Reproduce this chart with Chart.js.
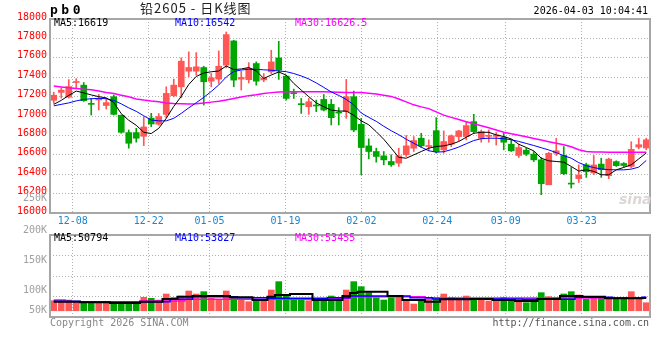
<!DOCTYPE html>
<html>
<head>
<meta charset="utf-8">
<script src="https://cdn.jsdelivr.net/npm/chart.js@4"></script>
<style>
  html, body { margin: 0; padding: 0; background: #fff; }
  #wrap { position: relative; width: 660px; height: 360px; overflow: hidden;
          font-family: "DejaVu Sans Mono", monospace; font-size: 10px; }
  #wrap canvas { position: absolute; left: 0; }
  .t { position: absolute; white-space: nowrap; line-height: 12px; }
</style>
</head>
<body>
<div id="wrap">
  <canvas id="kline" width="660" height="230" style="top:0"></canvas>
  <canvas id="vol" width="660" height="130" style="top:190px"></canvas>

  <div class="t" style="left:50px;top:3px;font-weight:bold;font-size:13px;line-height:14px;letter-spacing:3.5px">pb0</div>
  <div class="t" style="left:140px;top:1px;font-family:'Noto Sans CJK SC';font-size:13px;line-height:14px;letter-spacing:1px;color:#222">铅2605 - 日K线图</div>
  <div class="t" style="right:12px;top:5px;color:#000">2026-04-03 10:04:41</div>

  <div class="t" style="left:54px;top:17px;color:#000">MA5:16619</div>
  <div class="t" style="left:175px;top:17px;color:#0000ff">MA10:16542</div>
  <div class="t" style="left:295px;top:17px;color:#ff00ff">MA30:16626.5</div>

  <div class="t" style="left:54px;top:232px;color:#000">MA5:50794</div>
  <div class="t" style="left:175px;top:232px;color:#0000ff">MA10:53827</div>
  <div class="t" style="left:295px;top:232px;color:#ff00ff">MA30:53455</div>

  <div class="t" style="left:619px;top:193px;font-family:'DejaVu Sans';font-weight:bold;font-style:italic;font-size:14px;color:#ddd6d6">sina</div>

  <div class="t" style="left:50px;top:317px;color:#888">Copyright 2026 SINA.COM</div>
  <div class="t" style="right:11px;top:317px;color:#555">http://finance.sina.com.cn</div>
</div>

<script>
// trading days shown (pb0, daily)
const dates = [
  '12-03','12-04','12-05','12-08','12-09','12-10','12-11','12-12','12-15','12-16',
  '12-17','12-18','12-19','12-22','12-23','12-24','12-25','12-26','12-29','12-30',
  '12-31','01-05','01-06','01-07','01-08','01-09','01-12','01-13','01-14','01-15',
  '01-16','01-19','01-20','01-21','01-22','01-23','01-26','01-27','01-28','01-29',
  '01-30','02-02','02-03','02-04','02-05','02-06','02-09','02-10','02-11','02-12',
  '02-13','02-24','02-25','02-26','02-27','03-02','03-03','03-04','03-05','03-06',
  '03-09','03-10','03-11','03-12','03-13','03-16','03-17','03-18','03-19','03-20',
  '03-23','03-24','03-25','03-26','03-27','03-30','03-31','04-01','04-02','04-03'
];
const tickDates = ['12-08','12-22','01-05','01-19','02-02','02-24','03-09','03-23'];

const open = [
  17162,17243,17195,17345,17318,17128,17165,17108,17199,17008,
  16829,16829,16791,16978,16915,17017,17209,17301,17462,17462,
  17500,17359,17380,17524,17774,17380,17375,17541,17372,17455,
  17599,17411,17238,17125,17096,17110,17171,17120,17040,17045,
  17199,16914,16692,16634,16589,16531,16514,16600,16668,16771,
  16685,16849,16651,16709,16788,16788,16942,16771,16790,16790,
  16781,16709,16593,16648,16607,16548,16291,16617,16593,16305,
  16355,16497,16413,16504,16385,16530,16510,16480,16680,16670
];
const high = [
  17245,17290,17375,17385,17345,17181,17222,17181,17216,17010,
  16856,16873,16990,17028,17025,17301,17380,17599,17661,17654,
  17513,17438,17671,17866,17780,17460,17550,17558,17438,17678,
  17770,17421,17277,17181,17181,17164,17222,17171,17086,17377,
  17257,16976,16764,16668,16634,16600,16668,16798,16788,16822,
  16754,16983,16846,16805,16853,16942,17017,16856,16856,16830,
  16822,16754,16709,16668,16634,16572,16625,16770,16685,16470,
  16497,16514,16593,16565,16565,16538,16520,16735,16771,16771
];
const low = [
  17130,17185,17185,17290,17150,17010,17062,17072,17010,16822,
  16668,16730,16695,16890,16905,16983,17198,17188,17404,17421,
  17113,17301,17336,17496,17301,17268,17340,17318,17353,17438,
  17377,17164,17181,17027,17017,17045,17052,16908,16908,16976,
  16839,16394,16558,16524,16497,16480,16480,16583,16634,16675,
  16641,16617,16617,16685,16743,16754,16822,16730,16730,16700,
  16651,16634,16572,16593,16531,16189,16291,16593,16394,16257,
  16315,16367,16394,16367,16353,16480,16478,16465,16661,16651
];
const close = [
  17214,17267,17303,17355,17158,17120,17175,17138,17017,16832,
  16719,16771,16887,16918,16995,17233,17318,17565,17500,17507,
  17353,17394,17513,17839,17370,17397,17490,17359,17392,17558,
  17472,17181,17230,17117,17147,17103,17062,16983,17030,17199,
  16856,16675,16634,16583,16548,16497,16589,16692,16747,16692,
  16695,16634,16737,16795,16846,16901,16839,16839,16800,16805,
  16730,16641,16675,16607,16548,16302,16615,16641,16405,16298,
  16392,16425,16495,16447,16555,16488,16490,16656,16704,16755
];

// moving averages as printed on the chart
const ma5 = [
  17120,17161,17212,17257,17238,17217,17199,17187,17140,17024,
  16956,16904,16832,16819,16873,16976,17099,17202,17325,17408,
  17443,17456,17464,17515,17479,17485,17500,17464,17387,17423,
  17454,17421,17336,17267,17199,17135,17096,17061,17051,17051,
  17007,16950,16909,16838,16760,16668,16573,16565,16599,16634,
  16668,16686,16692,16709,16737,16781,16822,16832,16832,16805,
  16788,16764,16709,16675,16640,16565,16538,16531,16524,16480,
  16432,16445,16429,16394,16394,16445,16470,16497,16558,16619
];
const ma10 = [
  17105,17120,17135,17156,17171,17178,17182,17178,17161,17125,
  17084,17048,17002,16958,16950,16950,16976,17027,17084,17137,
  17192,17253,17320,17402,17459,17474,17482,17481,17476,17472,
  17464,17457,17438,17413,17382,17341,17295,17248,17212,17171,
  17115,17031,16986,16945,16894,16848,16807,16760,16719,16678,
  16642,16627,16632,16653,16680,16714,16747,16766,16771,16771,
  16766,16755,16738,16717,16696,16673,16650,16622,16591,16565,
  16519,16488,16468,16454,16447,16445,16445,16452,16473,16542
];
const ma30 = [
  17310,17300,17291,17284,17277,17271,17257,17243,17231,17214,
  17198,17176,17164,17154,17146,17135,17130,17127,17125,17127,
  17133,17143,17153,17166,17180,17195,17210,17218,17233,17241,
  17247,17250,17250,17250,17250,17250,17250,17247,17245,17243,
  17243,17243,17235,17227,17214,17202,17176,17146,17115,17094,
  17076,17043,17009,16986,16963,16940,16920,16899,16879,16856,
  16832,16816,16802,16786,16769,16752,16735,16719,16704,16683,
  16653,16634,16630,16628,16627,16626,16626,16626,16626,16627
];

// volume (lots)
const volume = [
  40200,36200,42900,36200,36200,36200,36200,32200,32200,29600,
  36200,29600,53600,49600,42900,67000,53600,58900,79000,67000,
  76300,49600,42900,79000,56300,42900,36200,42900,42900,83000,
  116400,63000,42900,45600,40200,42900,42900,58900,42900,83000,
  116400,96400,72300,52300,42900,52300,53600,42900,26900,42900,
  45600,53600,67000,53600,45600,58900,46900,45600,38900,40200,
  53600,45600,42900,32200,45600,72300,56300,53600,67000,76300,
  63000,45600,56300,53600,53600,45600,49600,76300,53600,32200
];
const volMa5 = [
  36100,36100,36100,36100,33700,33700,33700,33700,30900,30900,
  30900,30900,36100,36100,36100,46900,46900,56100,56100,58900,
  58900,58900,58900,58900,53700,53700,53700,42900,42900,56100,
  63000,63000,67000,67000,67000,42900,42900,42900,42900,58900,
  71000,76200,76200,76200,76200,58900,58900,42900,42900,42900,
  36100,36100,45700,45700,45700,45700,46900,46900,46900,42900,
  42900,42900,38900,38900,38900,46900,46900,46900,58900,58900,
  58900,56100,56100,56100,49700,49700,49700,49700,49700,50794
];
const volMa10 = [
  37700,37700,37700,37700,33700,33700,33700,33700,33700,33700,
  33700,33700,36100,36100,36100,36100,45700,45700,45700,56100,
  56100,56100,56100,56100,56100,52100,52100,52100,52100,49700,
  49700,49700,49700,49700,49700,49700,49700,52100,52100,52100,
  58900,58900,58900,58900,58900,58900,58900,58900,52100,52100,
  52100,46900,46900,46900,46900,46900,46900,46900,46900,46900,
  46900,46900,46900,45700,45700,45700,45700,45700,45700,45700,
  53700,53700,53700,53700,53700,49700,49700,49700,49700,53827
];
const volMa30 = [
  42900,42900,36100,36100,36100,36100,36100,36100,36100,36100,
  36100,36100,38900,38900,38900,38900,38900,38900,45700,45700,
  45700,45700,45700,45700,45700,45700,45700,45700,45700,45700,
  45700,45700,45700,45700,45700,45700,45700,49700,49700,49700,
  56100,56100,56100,56100,56100,56100,56100,56100,56100,56100,
  51000,51000,51000,51000,51000,51000,51000,51000,51000,51000,
  51000,51000,51000,51000,51000,51000,51000,51000,51000,51000,
  51000,51000,51000,51000,51000,51000,51000,51000,51000,53455
];

const priceMin = 16000, priceMax = 18000, priceStep = 200;
const volMin = -25000, volMax = 303000;
const volTickLabels = ['250K', '200K', '150K', '100K', '50K'];

const UP = '#ff5656';
const DOWN = '#00a600';
const FONT = { family: 'DejaVu Sans Mono', size: 10 };

const n = dates.length;
const xs = dates.map((d, i) => i + 0.5);
const candleColor = close.map((c, i) => (c >= open[i] ? UP : DOWN));
// sina spreads the date grid over n-1 gaps, the candles over n slots
const tickVals = tickDates.map(d => dates.indexOf(d) * n / (n - 1));

const pts = arr => xs.map((x, i) => ({ x: x, y: arr[i] }));

const dotted = { color: '#b0b0b0', lineWidth: 1, drawTicks: false, offset: false };
const dottedBorder = { display: false, dash: [1, 2] };

const frame = {
  id: 'frame',
  afterDraw(chart) {
    const { ctx, chartArea: a } = chart;
    ctx.save();
    ctx.setLineDash([]);
    ctx.strokeStyle = '#a6a6a6';
    ctx.lineWidth = 2;
    ctx.strokeRect(a.left, a.top, a.right - a.left, a.bottom - a.top);
    ctx.restore();
  }
};

function maLine(arr, color, width, stepped) {
  return {
    type: 'line',
    data: pts(arr),
    borderColor: color,
    borderWidth: width,
    pointRadius: 0,
    stepped: stepped || false,
    order: 0
  };
}

const xScale = (showLabels) => ({
  type: 'linear',
  min: 0,
  max: n,
  offset: false,
  afterBuildTicks: s => { s.ticks = tickVals.map(v => ({ value: v })); },
  afterFit: s => { s.height = showLabels ? 17 : 0; },
  grid: dotted,
  border: dottedBorder,
  ticks: {
    display: showLabels,
    autoSkip: false,
    maxRotation: 0,
    padding: 2,
    color: '#1a86d0',
    font: FONT,
    callback: v => dates[Math.round(v * (n - 1) / n)]
  }
});

new Chart(document.getElementById('kline'), {
  type: 'bar',
  data: {
    datasets: [
      maLine(ma5, '#000000', 1),
      maLine(ma10, '#0000ff', 1),
      maLine(ma30, '#ff00ff', 1.5),
      {
        data: xs.map((x, i) => ({ x: x, y: [low[i], high[i]] })),
        backgroundColor: candleColor,
        barThickness: 1,
        grouped: false,
        order: 2
      },
      {
        data: xs.map((x, i) => ({ x: x, y: [open[i], close[i]] })),
        backgroundColor: candleColor,
        barThickness: 6,
        minBarLength: 1,
        grouped: false,
        order: 1
      }
    ]
  },
  options: {
    responsive: false,
    animation: false,
    devicePixelRatio: 1,
    events: [],
    layout: { padding: { top: 19, right: 10, bottom: 0, left: 0 } },
    plugins: { legend: { display: false }, tooltip: { enabled: false } },
    scales: {
      x: xScale(true),
      y: {
        min: priceMin,
        max: priceMax,
        afterFit: s => { s.width = 50; },
        grid: dotted,
        border: dottedBorder,
        ticks: {
          stepSize: priceStep,
          padding: 3,
          labelOffset: -2,
          color: '#ff0000',
          font: FONT,
          callback: v => String(v)
        }
      }
    }
  },
  plugins: [frame]
});

// sina prints the volume labels off the grid; offsets from the panel top
const volLabelOffsets = [-36.5, -4.2, 25.8, 55.8, 75.8];
const volLabels = {
  id: 'volLabels',
  afterDraw(chart) {
    const { ctx, chartArea: a } = chart;
    ctx.save();
    ctx.font = '10px "DejaVu Sans Mono"';
    ctx.fillStyle = '#a0a0a0';
    ctx.textAlign = 'right';
    ctx.textBaseline = 'middle';
    volTickLabels.forEach((t, j) => ctx.fillText(t, a.left - 3, a.top + volLabelOffsets[j]));
    ctx.restore();
  }
};

new Chart(document.getElementById('vol'), {
  type: 'bar',
  data: {
    datasets: [
      maLine(volMa5, '#000000', 2, 'middle'),
      maLine(volMa10, '#0000ff', 1.5, 'middle'),
      maLine(volMa30, '#ff00ff', 1.5, 'middle'),
      {
        data: pts(volume),
        backgroundColor: candleColor,
        barThickness: 6,
        grouped: false,
        order: 1
      }
    ]
  },
  options: {
    responsive: false,
    animation: false,
    devicePixelRatio: 1,
    events: [],
    layout: { padding: { top: 45, right: 10, bottom: 3, left: 0 } },
    plugins: { legend: { display: false }, tooltip: { enabled: false } },
    scales: {
      x: xScale(false),
      y: {
        min: volMin,
        max: volMax,
        afterBuildTicks: s => {
          const step = (s.max - s.min) / 4;
          s.ticks = [1, 2, 3].map(j => ({ value: s.min + j * step }));
        },
        afterFit: s => { s.width = 50; },
        grid: dotted,
        border: dottedBorder,
        ticks: { display: false }
      }
    }
  },
  plugins: [frame, volLabels]
});
</script>
</body>
</html>
